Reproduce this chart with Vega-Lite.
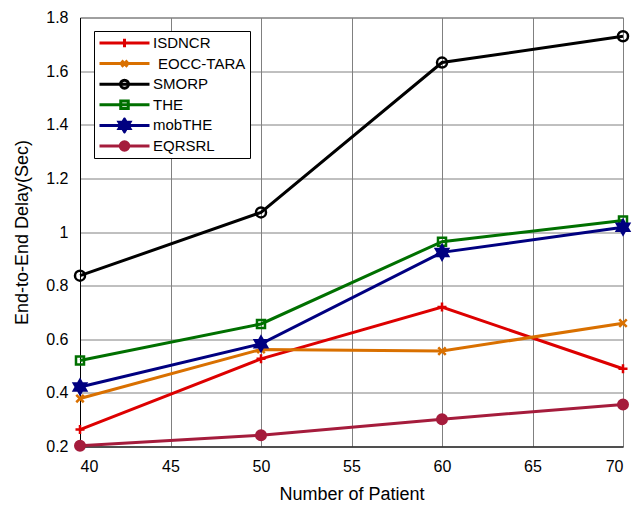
{
  "$schema": "https://vega.github.io/schema/vega-lite/v6.json",
  "width": 543,
  "height": 429,
  "autosize": {"type": "none"},
  "padding": {"left": 80, "top": 17.5, "right": 19, "bottom": 60.5},
  "background": "white",
  "config": {"view": {"stroke": "#808080", "strokeWidth": 1}, "font": "Liberation Sans"},
  "data": {
    "values": [
      {"series": "ISDNCR", "patients": 40, "delay": 0.263},
      {"series": "ISDNCR", "patients": 50, "delay": 0.527},
      {"series": "ISDNCR", "patients": 60, "delay": 0.72},
      {"series": "ISDNCR", "patients": 70, "delay": 0.49},
      {"series": "EOCC-TARA", "patients": 40, "delay": 0.379},
      {"series": "EOCC-TARA", "patients": 50, "delay": 0.562},
      {"series": "EOCC-TARA", "patients": 60, "delay": 0.556},
      {"series": "EOCC-TARA", "patients": 70, "delay": 0.66},
      {"series": "SMORP", "patients": 40, "delay": 0.837},
      {"series": "SMORP", "patients": 50, "delay": 1.073},
      {"series": "SMORP", "patients": 60, "delay": 1.632},
      {"series": "SMORP", "patients": 70, "delay": 1.73},
      {"series": "THE", "patients": 40, "delay": 0.521},
      {"series": "THE", "patients": 50, "delay": 0.657},
      {"series": "THE", "patients": 60, "delay": 0.964},
      {"series": "THE", "patients": 70, "delay": 1.043},
      {"series": "mobTHE", "patients": 40, "delay": 0.422},
      {"series": "mobTHE", "patients": 50, "delay": 0.583},
      {"series": "mobTHE", "patients": 60, "delay": 0.924},
      {"series": "mobTHE", "patients": 70, "delay": 1.018},
      {"series": "EQRSRL", "patients": 40, "delay": 0.203},
      {"series": "EQRSRL", "patients": 50, "delay": 0.242},
      {"series": "EQRSRL", "patients": 60, "delay": 0.302},
      {"series": "EQRSRL", "patients": 70, "delay": 0.357}
    ]
  },
  "encoding": {
    "x": {
      "field": "patients", "type": "quantitative",
      "scale": {"domain": [40, 70], "nice": false, "zero": false},
      "axis": {
        "title": "Number of Patient", "values": [40, 45, 50, 55, 60, 65, 70],
        "grid": true, "gridColor": "#808080", "gridOpacity": 1, "gridWidth": 1,
        "domainColor": "black", "domainWidth": 1, "ticks": false,
        "labelFontSize": 16, "labelColor": "black", "labelPadding": 12,
        "titleFontSize": 18, "titleFontWeight": "normal", "titleColor": "black", "titlePadding": 11
      }
    },
    "y": {
      "field": "delay", "type": "quantitative",
      "scale": {"domain": [0.2, 1.8], "nice": false, "zero": false},
      "axis": {
        "title": "End-to-End Delay(Sec)", "values": [0.2, 0.4, 0.6, 0.8, 1, 1.2, 1.4, 1.6, 1.8],
        "format": ".1~f",
        "grid": true, "gridColor": "#808080", "gridOpacity": 1, "gridWidth": 1,
        "domainColor": "black", "domainWidth": 1, "ticks": false,
        "labelFontSize": 16, "labelColor": "black", "labelPadding": 12,
        "titleFontSize": 18, "titleFontWeight": "normal", "titleColor": "black", "titlePadding": 14
      }
    },
    "stroke": {
      "field": "series", "type": "nominal",
      "scale": {
        "domain": ["ISDNCR", "EOCC-TARA", "SMORP", "THE", "mobTHE", "EQRSRL"],
        "range": ["#dd0000", "#d97000", "#000000", "#007000", "#000080", "#a51c3c"]
      },
      "legend": {
        "orient": "none", "legendX": 14, "legendY": 13.5, "title": null,
        "strokeColor": "black", "fillColor": "white", "padding": 4,
        "rowPadding": 4.6, "clipHeight": 16,
        "symbolSize": 2500, "symbolStrokeWidth": 3, "symbolOffset": 0,
        "labelOffset": 2, "labelFontSize": 15, "labelColor": "black", "labelLimit": 300,
        "encoding": {
          "symbols": {
            "shape": {"value": {"expr": "datum.value === 'ISDNCR' ? 'M-1,0H1M0,-0.17V0.17' : datum.value === 'EOCC-TARA' ? 'M-1,0H1M-0.12,-0.12L0.12,0.12M-0.12,0.12L0.12,-0.12' : datum.value === 'SMORP' ? 'M-1,0H1M0.16,0A0.16,0.16,0,1,1,-0.16,0A0.16,0.16,0,1,1,0.16,0Z' : datum.value === 'THE' ? 'M-1,0H1M-0.15,-0.15H0.15V0.15H-0.15Z' : datum.value === 'mobTHE' ? 'M-1,0H1M0,-0.25L0.217,0.125L-0.217,0.125ZM0,0.25L-0.217,-0.125L0.217,-0.125Z' : 'M-1,0H1M0.17,0A0.17,0.17,0,1,1,-0.17,0A0.17,0.17,0,1,1,0.17,0Z'"}},
            "fill": {"value": {"expr": "datum.value === 'mobTHE' ? '#000080' : datum.value === 'EQRSRL' ? '#a51c3c' : 'transparent'"}},
            "size": {"value": 2500},
            "strokeWidth": {"value": 3},
            "opacity": {"value": 1}
          },
          "labels": {
            "dx": {"value": {"expr": "datum.value === 'EOCC-TARA' ? 5 : 0"}}
          }
        }
      }
    }
  },
  "layer": [
    {
      "mark": {"type": "line", "strokeWidth": 3}
    },
    {
      "mark": {"type": "point", "filled": true, "strokeWidth": 2.5, "opacity": 1},
      "encoding": {
        "fill": {
          "field": "series", "type": "nominal", "legend": null,
          "scale": {
            "domain": ["EOCC-TARA", "EQRSRL", "ISDNCR", "SMORP", "THE", "mobTHE"],
            "range": ["transparent", "#a51c3c", "transparent", "transparent", "transparent", "#000080"]
          }
        },
        "shape": {
          "field": "series", "type": "nominal", "legend": null,
          "scale": {
            "domain": ["EOCC-TARA", "EQRSRL", "ISDNCR", "SMORP", "THE", "mobTHE"],
            "range": ["M-1,-1L1,1M-1,1L1,-1", "circle", "M-1,0H1M0,-1V1", "circle", "square", "M0,-1L0.866,0.5L-0.866,0.5ZM0,1L-0.866,-0.5L0.866,-0.5Z"]
          }
        },
        "size": {
          "field": "series", "type": "nominal", "legend": null,
          "scale": {
            "type": "ordinal",
            "domain": ["EOCC-TARA", "EQRSRL", "ISDNCR", "SMORP", "THE", "mobTHE"],
            "range": [56, 90, 81, 100, 64, 196]
          }
        }
      }
    }
  ]
}
